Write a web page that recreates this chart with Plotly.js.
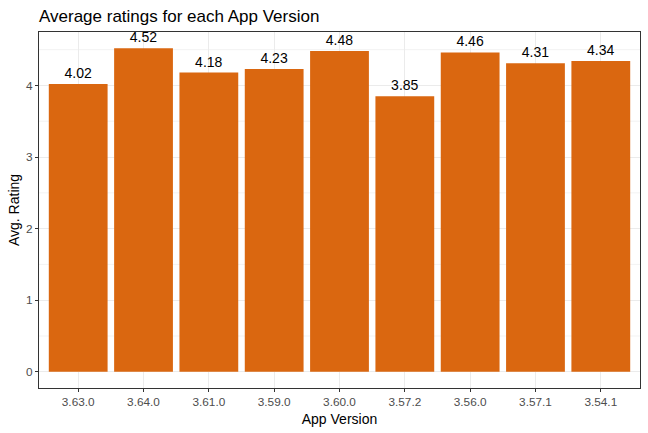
<!DOCTYPE html>
<html><head><meta charset="utf-8">
<script src="https://cdn.plot.ly/plotly-3.0.1.min.js"></script>
<style>body{margin:0;background:#fff}#c{width:648px;height:433px}</style>
</head><body><div id="c"></div>
<script>
const versions = ["3.63.0","3.64.0","3.61.0","3.59.0","3.60.0","3.57.2","3.56.0","3.57.1","3.54.1"];
const ratings = [4.02,4.52,4.18,4.23,4.48,3.85,4.46,4.31,4.34];
const yTicks = [0,1,2,3,4];
const yMinor = [0.5,1.5,2.5,3.5,4.5];
const font = "Liberation Sans, Arial, sans-serif";

const shapes = yMinor.map(v => ({type:"line", xref:"paper", x0:0, x1:1, yref:"y", y0:v, y1:v,
  line:{color:"#EBEBEB", width:0.6}, layer:"below"}));

Plotly.newPlot("c", [{
  type:"bar", x:versions, y:ratings, width:0.9,
  marker:{color:"#DA6710", line:{width:0}},
  text:ratings.map(v=>v.toFixed(2)), textposition:"outside", cliponaxis:false,
  textfont:{family:font, size:14, color:"#000"}, hoverinfo:"none"
}], {
  width:648, height:433,
  margin:{l:39, r:8, t:32, b:45},
  paper_bgcolor:"#fff", plot_bgcolor:"#fff",
  font:{family:font},
  title:{text:"Average ratings for each App Version", xref:"paper", x:0, xanchor:"left", y:1-16.5/433, yanchor:"middle",
    font:{family:font, size:17, color:"#000"}},
  xaxis:{type:"category", range:[-0.6,8.6], showgrid:true, gridcolor:"#EBEBEB", gridwidth:1,
    ticks:"outside", ticklen:3, tickcolor:"#333", tickwidth:1,
    tickfont:{family:font, size:11.8, color:"#4D4D4D"},
    showline:true, linecolor:"#333", linewidth:1, mirror:true, zeroline:false,
    title:{text:"App Version", font:{family:font, size:14, color:"#000"}, standoff:6}},
  yaxis:{range:[-0.226,4.746], tickvals:yTicks, showgrid:true, gridcolor:"#EBEBEB", gridwidth:1,
    ticks:"outside", ticklen:3, tickcolor:"#333", tickwidth:1,
    tickfont:{family:font, size:11.8, color:"#4D4D4D"},
    showline:true, linecolor:"#333", linewidth:1, mirror:true, zeroline:false,
    title:{text:"Avg. Rating", font:{family:font, size:14, color:"#000"}, standoff:3}},
  shapes:shapes,
  showlegend:false
}, {staticPlot:true});
</script></body></html>
